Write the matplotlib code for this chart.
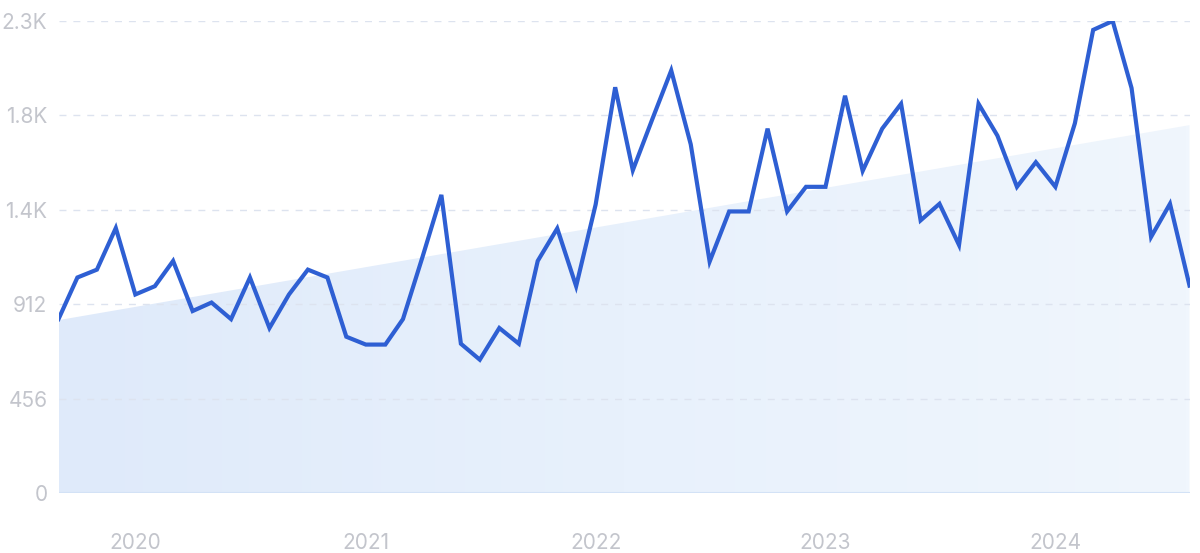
import numpy as np
import pandas as pd
import matplotlib
matplotlib.use("Agg")
import matplotlib.pyplot as plt
import matplotlib.dates as mdates
from matplotlib.colors import LinearSegmentedColormap

# monthly values, Sep 2019 - Aug 2024
months = pd.date_range("2019-09-01", periods=60, freq="MS")
values = [840, 1041, 1079, 1280, 959, 999, 1121, 879, 920, 840,
          1041, 797, 959, 1079, 1041, 755, 717, 717, 840, 1140,
          1440, 721, 644, 797, 721, 1121, 1278, 999, 1394, 1960,
          1559, 1806, 2041, 1684, 1118, 1360, 1360, 1760, 1360, 1479,
          1479, 1919, 1556, 1760, 1880, 1317, 1397, 1198, 1880, 1726,
          1479, 1598, 1479, 1786, 2237, 2280, 1956, 1237, 1397, 1002]
trend_ends = [835, 1777]

yticks = [0, 456, 912, 1368, 1824, 2280]
ytick_labels = ["0", "456", "912", "1.4K", "1.8K", "2.3K"]
year_ticks = pd.to_datetime(["2020-01-01", "2021-01-01", "2022-01-01", "2023-01-01", "2024-01-01"])
year_labels = ["2020", "2021", "2022", "2023", "2024"]

plt.rcParams["font.family"] = ["Inter", "DejaVu Sans"]

fig = plt.figure(figsize=(12, 5.53), dpi=100)
ax = fig.add_axes([0.04875, 0.1085, 0.9425, 0.8535])

x = mdates.date2num(months)
trend = np.interp(x, [x[0], x[-1]], trend_ends)

# gradient fill under trend line
poly = ax.fill_between(x, 0, trend, color="none", lw=0)
cmap = LinearSegmentedColormap.from_list("g", ["#dfeafa", "#e8f1fc", "#f0f6fd"])
grad = np.linspace(0, 1, 256).reshape(1, -1)
img = ax.imshow(grad, cmap=cmap, aspect="auto", extent=[x[0], x[-1], 0, 2280],
                origin="lower", zorder=1)
img.set_clip_path(poly.get_paths()[0], transform=ax.transData)

ax.axhline(0, color="#d3e2f6", lw=1.5, zorder=2)
for yt in yticks[1:]:
    ax.axhline(yt, color="#dde3ef", lw=1, ls=(0, (5, 5)), zorder=2)

ax.plot(x, values, color="#2e5fd3", lw=3, solid_joinstyle="miter", zorder=3)

ax.set_xlim(x[0], x[-1])
ax.set_ylim(0, 2280)
ax.set_yticks(yticks)
ax.set_yticklabels(ytick_labels)
ax.set_xticks(mdates.date2num(year_ticks))
ax.set_xticklabels(year_labels)
ax.tick_params(axis="both", length=0, labelsize=15, labelcolor="#c3c5cc")
ax.tick_params(axis="y", pad=8)
ax.tick_params(axis="x", pad=29)
for s in ax.spines.values():
    s.set_visible(False)

fig.savefig("out.png", dpi=100)
